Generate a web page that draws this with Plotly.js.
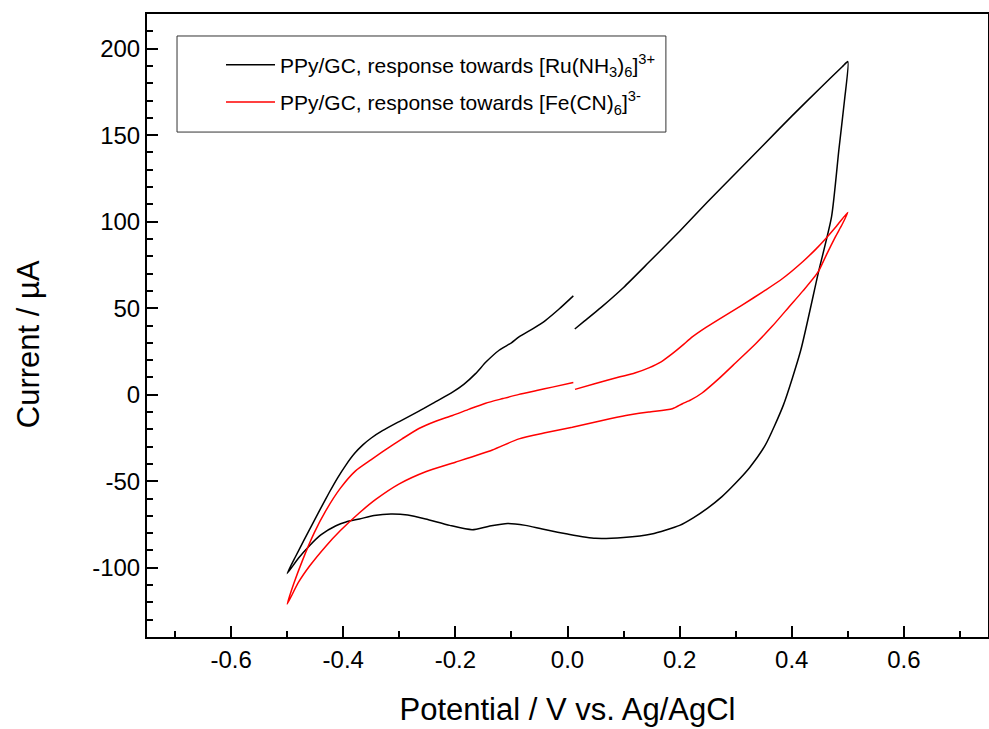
<!DOCTYPE html>
<html>
<head>
<meta charset="utf-8">
<script src="https://cdn.plot.ly/plotly-3.0.1.min.js"></script>
<style>html,body{margin:0;padding:0;background:#fff;}#chart{width:989px;height:729px;}</style>
</head>
<body>
<div id="chart"></div>
<script>
// PPy/GC response towards [Ru(NH3)6]3+ (black); scan starts near 0.01 V going anodic
var ruPotential = [0.013, 0.03, 0.06, 0.1, 0.145, 0.2, 0.25, 0.3, 0.35, 0.4, 0.45, 0.49, 0.5,
  0.494, 0.484, 0.471, 0.447, 0.416, 0.385, 0.353, 0.325, 0.3, 0.275, 0.25, 0.225, 0.2, 0.15, 0.1, 0.05, 0.0,
  -0.045, -0.075, -0.107, -0.14, -0.17, -0.21, -0.253, -0.285, -0.315, -0.345, -0.371, -0.395, -0.413, -0.44,
  -0.461, -0.48, -0.5,
  -0.485, -0.47, -0.455, -0.44, -0.425, -0.41, -0.395, -0.38, -0.365, -0.35, -0.33, -0.3, -0.265, -0.235,
  -0.205, -0.185, -0.164, -0.145, -0.122, -0.1, -0.0865, -0.06, -0.039, -0.015, 0.0104];
var ruCurrent = [38, 42.5, 50.5, 62, 76.5, 94.5, 111.5, 128, 144.5, 161, 177, 189.5, 192.5,
  170, 141.5, 102.9, 70, 25.7, -6, -29, -42, -51, -59, -65.5, -71, -75.5, -80.5, -82.5, -83, -80.5,
  -77.6, -75.5, -74.4, -76, -78, -75.5, -71.8, -69.5, -68.9, -69.8, -71.8, -73.5, -75.7, -81,
  -87.5, -94.5, -103.3,
  -93.5, -84, -74.8, -65.5, -56.5, -48, -40.5, -34, -29, -25, -20.8, -15.5, -9.5, -4,
  1.5, 6, 12.2, 19, 25.7, 30, 33.4, 38.5, 43, 49.5, 57.1];

// PPy/GC response towards [Fe(CN)6]3- (red)
var fePotential = [0.0134, 0.05, 0.092, 0.12, 0.145, 0.167, 0.187, 0.205, 0.2225, 0.245, 0.27, 0.31, 0.353,
  0.383, 0.42, 0.4426, 0.46, 0.48, 0.5,
  0.49, 0.478, 0.462, 0.447, 0.42, 0.395, 0.365, 0.3356, 0.3, 0.27, 0.24, 0.22, 0.205, 0.187, 0.145, 0.104,
  0.06, 0.0086, -0.04, -0.0865, -0.134, -0.2, -0.253, -0.3, -0.342, -0.372, -0.405, -0.431, -0.46, -0.48, -0.5,
  -0.488, -0.473, -0.452, -0.431, -0.405, -0.378, -0.35, -0.327, -0.295, -0.265, -0.235, -0.205, -0.175,
  -0.146, -0.115, -0.0865, -0.055, -0.027, 0.0104];
var feCurrent = [3.1, 6.5, 10.2, 12.5, 15.5, 19, 23.7, 28.5, 33.4, 38.5, 43.6, 51.5, 60.4,
  67, 77, 84, 90, 97.5, 105.4,
  98.5, 91.3, 81, 71, 60, 50.7, 39.5, 29.5, 18.5, 9.3, 1, -3, -5.2, -8.1, -10, -12,
  -15, -18.8, -22, -25.5, -31.9, -39, -44.5, -51.5, -60.5, -68.5, -78.5, -87.5, -99, -108.5, -121,
  -109, -96, -80, -67, -54, -44, -37.5, -32.3, -25.5, -19.5, -15.3, -12, -8.3,
  -4.9, -2.2, 0.2, 2.4, 4.4, 7.1];

var seriesNames = [
  'PPy/GC, response towards [Ru(NH<sub>3</sub>)<sub>6</sub>]<sup>3+</sup>',
  'PPy/GC, response towards [Fe(CN)<sub>6</sub>]<sup>3-</sup>'
];
var xTickVals = [-0.6, -0.4, -0.2, 0.0, 0.2, 0.4, 0.6];
var xTickText = ['-0.6', '-0.4', '-0.2', '0.0', '0.2', '0.4', '0.6'];
var yTickVals = [-100, -50, 0, 50, 100, 150, 200];
var yTickText = ['-100', '-50', '0', '50', '100', '150', '200'];
var xTitle = 'Potential / V vs. Ag/AgCl';
var yTitle = 'Current / µA';

var FONT = 'Liberation Sans, Arial, sans-serif';

var traces = [
  {x: ruPotential, y: ruCurrent, mode: 'lines', name: seriesNames[0], legendgroup: 'a',
   line: {color: '#000000', width: 1.5, shape: 'spline', smoothing: 0.6}},
  {x: fePotential, y: feCurrent, mode: 'lines', name: seriesNames[1], legendgroup: 'b',
   line: {color: '#ff0000', width: 1.5, shape: 'spline', smoothing: 0.6}}
];

var axisCommon = {
  showline: true, linewidth: 2, linecolor: '#000', mirror: true,
  showgrid: false, zeroline: false,
  ticks: 'inside', ticklen: 11, tickwidth: 2, tickcolor: '#000',
  tickfont: {family: FONT, size: 24, color: '#000'}
};

var layout = {
  width: 989, height: 729,
  margin: {l: 147, r: 1, t: 14, b: 92, pad: 0},
  paper_bgcolor: '#fff', plot_bgcolor: '#fff',
  showlegend: true,
  xaxis: Object.assign({}, axisCommon, {
    range: [-0.75, 0.75], tickmode: 'array', tickvals: xTickVals, ticktext: xTickText,
    minor: {dtick: 0.1, tick0: 0, ticks: 'inside', ticklen: 6, tickwidth: 2, tickcolor: '#000', showgrid: false},
    title: {text: xTitle, font: {family: FONT, size: 31, color: '#000'}, standoff: 27}
  }),
  yaxis: Object.assign({}, axisCommon, {
    range: [-140, 220], tickmode: 'array', tickvals: yTickVals, ticktext: yTickText,
    minor: {dtick: 10, tick0: 0, ticks: 'inside', ticklen: 6, tickwidth: 2, tickcolor: '#000', showgrid: false}
  }),
  annotations: [{
    text: yTitle, textangle: -90, showarrow: false,
    xref: 'paper', yref: 'paper', x: 0, y: 0.47, xanchor: 'center', yanchor: 'middle',
    xshift: -119, font: {family: FONT, size: 31, color: '#000'}
  }],
  legend: {
    x: 0.088, y: 0.951, xanchor: 'left', yanchor: 'top',
    bgcolor: 'rgba(0,0,0,0)', borderwidth: 0,
    font: {family: FONT, size: 21, color: '#000'},
    itemwidth: 49, tracegroupgap: 7
  },
  shapes: [{
    type: 'rect', xref: 'paper', yref: 'paper',
    x0: 0.0357, x1: 0.617, y0: 0.8105, y1: 0.9647,
    line: {color: '#333', width: 1}, fillcolor: 'rgba(0,0,0,0)', layer: 'above'
  }]
};

Plotly.newPlot('chart', traces, layout, {displayModeBar: false, staticPlot: true});
</script>
</body>
</html>
